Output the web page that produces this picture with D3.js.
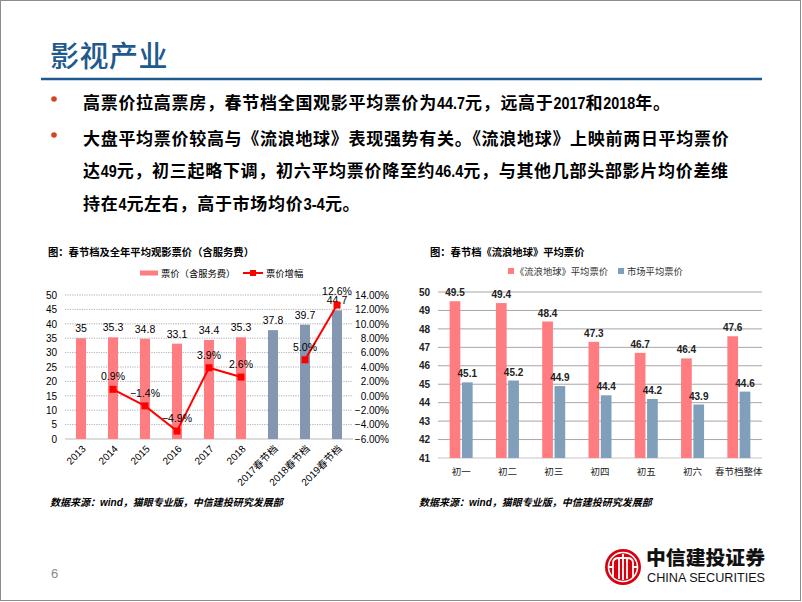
<!DOCTYPE html>
<html><head><meta charset="utf-8">
<script src="https://cdn.jsdelivr.net/npm/d3@7"></script>
<style>
html,body{margin:0;padding:0;background:#fff;}
svg{display:block;}
text{font-family:"Liberation Sans","Noto Sans CJK SC",sans-serif;}
</style></head>
<body>
<script>
// ---------- data ----------
const slideTitle = "影视产业";
const bulletLines = [
  ["高票价拉高票房，春节档全国观影平均票价为44.7元，远高于2017和2018年。"],
  ["大盘平均票价较高与《流浪地球》表现强势有关。《流浪地球》上映前两日平均票价",
   "达49元，初三起略下调，初六平均票价降至约46.4元，与其他几部头部影片均价差维",
   "持在4元左右，高于市场均价3-4元。"]
];
const leftTitle = "图：春节档及全年平均观影票价（含服务费）";
const leftCats = ["2013","2014","2015","2016","2017","2018","2017春节档","2018春节档","2019春节档"];
const leftPrice = [35,35.3,34.8,33.1,34.4,35.3,37.8,39.7,44.7];
const leftKind = ["year","year","year","year","year","year","spring","spring","spring"];
const leftGrowth = [null,0.9,-1.4,-4.9,3.9,2.6,null,5.0,12.6];
const leftTicks = [0,5,10,15,20,25,30,35,40,45,50];
const leftPctTicks = [-6,-4,-2,0,2,4,6,8,10,12,14];
const leftLegend = ["票价（含服务费）","票价增幅"];

const rightTitle = "图：春节档《流浪地球》平均票价";
const rightCats = ["初一","初二","初三","初四","初五","初六","春节档整体"];
const wanderingEarth = [49.5,49.4,48.4,47.3,46.7,46.4,47.6];
const marketAvg = [45.1,45.2,44.9,44.4,44.2,43.9,44.6];
const rightTicks = [41,42,43,44,45,46,47,48,49,50];
const rightLegend = ["《流浪地球》平均票价","市场平均票价"];

const sourceText = "数据来源：wind，猫眼专业版，中信建投研究发展部";
const pageNo = "6";

// ---------- drawing ----------
const W = 802, H = 602;
const svg = d3.select("body").append("svg").attr("width", W).attr("height", H);
const CJK = '"Liberation Sans","Noto Sans CJK SC",sans-serif';
const PINK = "#ff7c80", GREYBLUE = "#8497b0", STEEL = "#7f9fba", RED = "#ff0000";

// slide border
svg.append("rect").attr("x",0.5).attr("y",0.5).attr("width",800).attr("height",600)
  .attr("fill","none").attr("stroke","#8c8c8c").attr("stroke-width",1);

// title
svg.append("text").attr("x",50).attr("y",67).text(slideTitle)
  .style("font-family",'"Noto Sans CJK SC",sans-serif').style("font-size","29px")
  .style("font-weight","500").style("letter-spacing","0.5px").attr("fill","#1f5a8e");
svg.append("line").attr("x1",41).attr("x2",762).attr("y1",79).attr("y2",79)
  .attr("stroke","#1f5a8e").attr("stroke-width",2.5);

// bullets: CJK runs full-width, ASCII runs condensed like the reference
const FS = 17, LS = 0.7;
function asciiWidth(s){
  let w = 0;
  for (const ch of s) w += (ch === ".") ? 4 : (ch === "-") ? 5.5 : 8;
  return w;
}
function drawLine(str, x, y){
  const runs = str.match(/[\x20-\x7e]+|[^\x20-\x7e]+/g);
  let cx = x;
  runs.forEach(r=>{
    const isAscii = /^[\x20-\x7e]+$/.test(r);
    if (isAscii){
      const w = asciiWidth(r);
      const t = svg.append("text").attr("x",0).attr("y",0).text(r)
        .style("font-family",'"Liberation Sans",sans-serif')
        .style("font-size",FS+"px").style("font-weight","bold").attr("fill","#000");
      const w0 = t.node().getComputedTextLength() || w;
      t.attr("transform",`translate(${cx},${y}) scale(${w/w0},1)`);
      cx += w;
    } else {
      svg.append("text").attr("x",cx).attr("y",y).text(r)
        .style("font-family",'"Noto Sans CJK SC",sans-serif')
        .style("font-size",FS+"px").style("font-weight","bold")
        .style("letter-spacing",LS+"px").attr("fill","#000");
      cx += [...r].length * (FS + LS);
    }
  });
}
const lineYs = [[109],[145,177,210]];
bulletLines.forEach((lines,i)=>{
  svg.append("circle").attr("cx",54).attr("cy",lineYs[i][0]-10).attr("r",2.8).attr("fill","#d8431f");
  lines.forEach((ln,j)=> drawLine(ln, 83, lineYs[i][j]));
});

// ================= LEFT CHART =================
const L = {x0:65, x1:353, y0:439, y1:295};
svg.append("text").attr("x",48).attr("y",256).text(leftTitle)
  .style("font-family",CJK).style("font-size","10.3px").style("font-weight","bold").attr("fill","#000");

const lx = d3.scaleBand().domain(leftCats).range([L.x0,L.x1]);
const ly = d3.scaleLinear().domain([0,50]).range([L.y0,L.y1]);
const lp = d3.scaleLinear().domain([-6,14]).range([L.y0,L.y1]);

const lg = svg.append("g");
lg.selectAll("line").data(leftTicks).join("line")
  .attr("x1",L.x0).attr("x2",L.x1).attr("y1",d=>ly(d)).attr("y2",d=>ly(d))
  .attr("stroke",d=>d===0?"#d0d0d0":"#9a9a9a").attr("stroke-width",d=>d===0?1.5:0.8)
  .attr("stroke-dasharray",d=>d===0?null:"1.2,1.2");

const lAxis = svg.append("g").attr("transform",`translate(${L.x0-8},0)`)
  .call(d3.axisLeft(ly).tickValues(leftTicks).tickSize(0).tickPadding(0));
lAxis.select(".domain").remove();
lAxis.selectAll("text").style("font-family",CJK).style("font-size","10px").attr("fill","#000");

const rAxis = svg.append("g").attr("transform",`translate(389,0)`)
  .call(d3.axisLeft(lp).tickValues(leftPctTicks).tickSize(0).tickPadding(0)
    .tickFormat(d=>d3.format(".2f")(d)+"%"));
rAxis.select(".domain").remove();
rAxis.selectAll("text").style("font-family",CJK).style("font-size","10px").attr("fill","#000");

const lbw = 10;
svg.append("g").selectAll("rect").data(leftCats).join("rect")
  .attr("x",d=>lx(d)+lx.bandwidth()/2-lbw/2).attr("width",lbw)
  .attr("y",(d,i)=>ly(leftPrice[i])).attr("height",(d,i)=>ly(0)-ly(leftPrice[i]))
  .attr("fill",(d,i)=>leftKind[i]==="year"?PINK:GREYBLUE);
svg.append("g").selectAll("text").data(leftCats).join("text")
  .attr("x",d=>lx(d)+lx.bandwidth()/2).attr("y",(d,i)=>ly(leftPrice[i])-6)
  .attr("text-anchor","middle").text((d,i)=>leftPrice[i])
  .style("font-family",CJK).style("font-size","10.5px").attr("fill","#000");

const pts = leftCats.map((c,i)=>({c, v:leftGrowth[i]}));
svg.append("path").datum(pts)
  .attr("d",d3.line().defined(d=>d.v!=null).x(d=>lx(d.c)+lx.bandwidth()/2).y(d=>lp(d.v)))
  .attr("fill","none").attr("stroke",RED).attr("stroke-width",2);
const validPts = pts.filter(d=>d.v!=null);
svg.append("g").selectAll("rect").data(validPts).join("rect")
  .attr("x",d=>lx(d.c)+lx.bandwidth()/2-3.5).attr("y",d=>lp(d.v)-3.5)
  .attr("width",7).attr("height",7).attr("fill",RED);
svg.append("g").selectAll("text").data(validPts).join("text")
  .attr("x",d=>lx(d.c)+lx.bandwidth()/2).attr("y",d=>lp(d.v)-(d.v>12?10:9))
  .attr("text-anchor","middle").text(d=>d3.format(".1f")(d.v)+"%")
  .style("font-family",CJK).style("font-size","10.5px").attr("fill","#000");

svg.append("g").selectAll("text").data(leftCats).join("text")
  .attr("transform",d=>`translate(${lx(d)+lx.bandwidth()/2+3},${L.y0+8}) rotate(-45)`)
  .attr("text-anchor","end").attr("dy","0.35em").text(d=>d)
  .style("font-family",CJK).style("font-size","10px").attr("fill","#000");

svg.append("rect").attr("x",140).attr("y",270.5).attr("width",18).attr("height",5).attr("fill",PINK);
svg.append("text").attr("x",161).attr("y",277).text(leftLegend[0])
  .style("font-family",CJK).style("font-size","9.3px").attr("fill","#000");
svg.append("line").attr("x1",243).attr("x2",263).attr("y1",273).attr("y2",273).attr("stroke",RED).attr("stroke-width",2);
svg.append("rect").attr("x",250).attr("y",270).attr("width",6).attr("height",6).attr("fill",RED);
svg.append("text").attr("x",266).attr("y",277).text(leftLegend[1])
  .style("font-family",CJK).style("font-size","9.3px").attr("fill","#000");

svg.append("text").attr("x",50).attr("y",506).text(sourceText)
  .style("font-family",CJK).style("font-size","10px").style("font-weight","bold").style("font-style","italic").attr("fill","#000");

// ================= RIGHT CHART =================
const R = {x0:438, x1:762, y0:458, y1:292};
svg.append("text").attr("x",430).attr("y",256).text(rightTitle)
  .style("font-family",CJK).style("font-size","10.3px").style("font-weight","bold").attr("fill","#000");

const rx = d3.scaleBand().domain(rightCats).range([R.x0,R.x1]);
const ry = d3.scaleLinear().domain([41,50]).range([R.y0,R.y1]);
const sub = d3.scaleBand().domain(["we","mk"]).range([0,23]).paddingInner(0.13);

svg.append("g").selectAll("line").data(rightTicks).join("line")
  .attr("x1",R.x0).attr("x2",R.x1).attr("y1",d=>ry(d)).attr("y2",d=>ry(d))
  .attr("stroke",d=>d===41?"#d9d9d9":"#a6a6a6").attr("stroke-width",d=>d===41?1.5:1);

const ryAxis = svg.append("g").attr("transform",`translate(430,0)`)
  .call(d3.axisLeft(ry).tickValues(rightTicks).tickSize(0).tickPadding(0));
ryAxis.select(".domain").remove();
ryAxis.selectAll("text").style("font-family",CJK).style("font-size","10px").style("font-weight","bold").attr("fill","#222");

const series = [{k:"we",vals:wanderingEarth,color:PINK},{k:"mk",vals:marketAvg,color:STEEL}];
series.forEach(s=>{
  const g = svg.append("g");
  g.selectAll("rect").data(rightCats).join("rect")
    .attr("x",d=>rx(d)+rx.bandwidth()/2-11.5+sub(s.k)).attr("width",sub.bandwidth())
    .attr("y",(d,i)=>ry(s.vals[i])).attr("height",(d,i)=>ry(41)-ry(s.vals[i]))
    .attr("fill",s.color);
  g.selectAll("text").data(rightCats).join("text")
    .attr("x",d=>rx(d)+rx.bandwidth()/2-11.5+sub(s.k)+sub.bandwidth()/2).attr("y",(d,i)=>ry(s.vals[i])-5)
    .attr("text-anchor","middle").text((d,i)=>d3.format(".1f")(s.vals[i]))
    .style("font-family",CJK).style("font-size","10px").style("font-weight","bold").attr("fill","#222");
});

svg.append("g").selectAll("text").data(rightCats).join("text")
  .attr("x",d=>rx(d)+rx.bandwidth()/2).attr("y",475).attr("text-anchor","middle").text(d=>d)
  .style("font-family",CJK).style("font-size","9.5px").attr("fill","#222");

svg.append("rect").attr("x",508).attr("y",268).attr("width",6).attr("height",6).attr("fill",PINK);
svg.append("text").attr("x",515).attr("y",275).text(rightLegend[0])
  .style("font-family",CJK).style("font-size","9.3px").attr("fill","#333");
svg.append("rect").attr("x",618).attr("y",268).attr("width",6).attr("height",6).attr("fill",STEEL);
svg.append("text").attr("x",627).attr("y",275).text(rightLegend[1])
  .style("font-family",CJK).style("font-size","9.3px").attr("fill","#333");

svg.append("text").attr("x",419).attr("y",506).text(sourceText)
  .style("font-family",CJK).style("font-size","10px").style("font-weight","bold").style("font-style","italic").attr("fill","#000");

// ================= FOOTER =================
svg.append("text").attr("x",51).attr("y",578).text(pageNo)
  .style("font-family",'"Liberation Sans",sans-serif').style("font-size","13px").attr("fill","#8c8c8c");

const logo = svg.append("g").attr("transform","translate(623,567)");
logo.append("circle").attr("r",18).attr("fill","#d7000f");
logo.append("circle").attr("r",14.5).attr("fill","none").attr("stroke","#fff").attr("stroke-width",1.6);
logo.append("path").attr("d","M-10,-4 L-10,10 M-10,-4 Q-10,-9 -4,-9 L4,-9 Q10,-9 10,-4 L10,10 M-4,-9 L-4,12 M4,-9 L4,12 M0,-13 L0,13 M-14,0 L-10,0 M10,0 L14,0")
  .attr("fill","none").attr("stroke","#fff").attr("stroke-width",1.8);

svg.append("text").attr("x",646).attr("y",565).text("中信建投证券")
  .attr("textLength",119).attr("lengthAdjust","spacingAndGlyphs")
  .style("font-family",'"Noto Sans CJK SC",serif').style("font-size","19px").style("font-weight","900").attr("fill","#111");
svg.append("text").attr("x",647).attr("y",582).text("CHINA SECURITIES")
  .attr("textLength",118).attr("lengthAdjust","spacingAndGlyphs")
  .style("font-family",'"Liberation Sans",sans-serif').style("font-size","12.5px").attr("fill","#111");
</script>
</body></html>
